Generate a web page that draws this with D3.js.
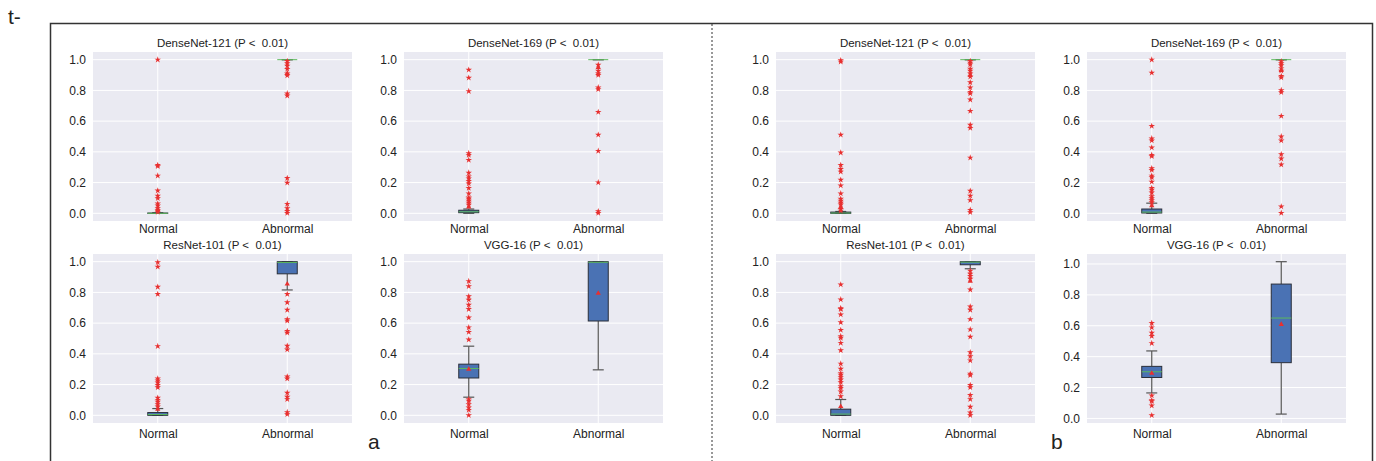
<!DOCTYPE html>
<html>
<head>
<meta charset="utf-8">
<script src="https://cdn.jsdelivr.net/npm/d3@7"></script>
<style>
  body { margin: 0; background: #fff; }
  text { font-family: "Liberation Sans", Arial, sans-serif; }
</style>
</head>
<body>
<div id="chart"></div>
<script>
// categories and ticks
var categories = ["Normal", "Abnormal"];
var yTicks = [0, 0.2, 0.4, 0.6, 0.8, 1.0];
var titles = ["DenseNet-121 (P <  0.01)", "DenseNet-169 (P <  0.01)",
              "ResNet-101 (P <  0.01)", "VGG-16 (P <  0.01)"];

// box stats per category: [lowWhisker, q1, median, q3, highWhisker, mean]
// panel a
var dn121aBox = [[0, 0, 0, 0.002, 0.004, 0.025], [1, 1, 1, 1, 1, 0.91]];
var dn121aOut = [[1.0, 0.314, 0.306, 0.245, 0.148, 0.114, 0.098, 0.063, 0.05, 0.033, 0.02, 0.009],
                 [0.991, 0.976, 0.96, 0.939, 0.91, 0.897, 0.78, 0.766, 0.229, 0.199, 0.061, 0.033, 0.015, 0.002]];

var dn169aBox = [[0, 0.004, 0.01, 0.02, 0.028, 0.041], [1, 1, 1, 1, 1, 0.95]];
var dn169aOut = [[0.934, 0.882, 0.795, 0.391, 0.38, 0.347, 0.264, 0.24, 0.227, 0.21, 0.194, 0.164, 0.129, 0.103, 0.094, 0.081, 0.068, 0.055],
                 [0.967, 0.928, 0.91, 0.9, 0.819, 0.808, 0.659, 0.511, 0.406, 0.201, 0.013, 0.002]];

var res101aBox = [[0, 0, 0.005, 0.018, 0.044, 0.04], [0.816, 0.921, 0.995, 1.0, 1.0, 0.855]];
var res101aOut = [[0.996, 0.967, 0.836, 0.789, 0.45, 0.239, 0.226, 0.213, 0.197, 0.182, 0.114, 0.1, 0.088, 0.072, 0.057],
                  [0.789, 0.735, 0.686, 0.625, 0.616, 0.548, 0.537, 0.452, 0.428, 0.252, 0.239, 0.147, 0.121, 0.105, 0.02, 0.007]];

var vgg16aBox = [[0.118, 0.243, 0.305, 0.333, 0.45, 0.30], [0.296, 0.614, 0.996, 1.0, 1.0, 0.794]];
var vgg16aOut = [[0.873, 0.84, 0.774, 0.752, 0.719, 0.691, 0.636, 0.572, 0.542, 0.493, 0.105, 0.094, 0.072, 0.05, 0.035, 0.0],
                 []];

// panel b
var dn121bBox = [[0, 0, 0.002, 0.008, 0.012, 0.041], [1, 1, 1, 1, 1, 0.9]];
var dn121bOut = [[0.996, 0.987, 0.511, 0.395, 0.314, 0.288, 0.271, 0.218, 0.181, 0.129, 0.094, 0.081, 0.068, 0.057, 0.028, 0.017],
                 [0.991, 0.98, 0.969, 0.941, 0.928, 0.91, 0.889, 0.852, 0.819, 0.79, 0.78, 0.74, 0.666, 0.576, 0.555, 0.362, 0.146, 0.114, 0.085, 0.022, 0.007]];

var dn169bBox = [[0, 0.002, 0.008, 0.028, 0.066, 0.05], [1, 1, 1, 1, 1, 0.93]];
var dn169bOut = [[1.0, 0.915, 0.568, 0.487, 0.474, 0.428, 0.38, 0.371, 0.293, 0.282, 0.245, 0.234, 0.205, 0.164, 0.153, 0.135, 0.111, 0.098, 0.085, 0.072],
                 [0.989, 0.976, 0.963, 0.943, 0.928, 0.893, 0.884, 0.801, 0.788, 0.633, 0.5, 0.474, 0.384, 0.356, 0.317, 0.044, 0.002]];

var res101bBox = [[0, 0, 0.008, 0.04, 0.103, 0.057], [0.954, 0.98, 0.997, 1.0, 1.0, 0.873]];
var res101bOut = [[0.851, 0.754, 0.697, 0.691, 0.656, 0.605, 0.555, 0.515, 0.504, 0.471, 0.423, 0.336, 0.303, 0.274, 0.263, 0.248, 0.232, 0.215, 0.189, 0.178, 0.154, 0.123],
                  [0.941, 0.921, 0.906, 0.888, 0.818, 0.708, 0.686, 0.625, 0.559, 0.511, 0.41, 0.384, 0.357, 0.27, 0.261, 0.197, 0.182, 0.132, 0.105, 0.055, 0.018, 0.0]];

var vgg16bBox = [[0.165, 0.265, 0.302, 0.337, 0.437, 0.293], [0.028, 0.361, 0.65, 0.87, 1.015, 0.609]];
var vgg16bOut = [[0.617, 0.589, 0.554, 0.533, 0.487, 0.148, 0.117, 0.111, 0.083, 0.02],
                 []];

var plots = [
  {title: titles[0], box: dn121aBox, out: dn121aOut, col: 0, row: 0},
  {title: titles[1], box: dn169aBox, out: dn169aOut, col: 1, row: 0},
  {title: titles[2], box: res101aBox, out: res101aOut, col: 0, row: 1},
  {title: titles[3], box: vgg16aBox, out: vgg16aOut, col: 1, row: 1},
  {title: titles[0], box: dn121bBox, out: dn121bOut, col: 2, row: 0},
  {title: titles[1], box: dn169bBox, out: dn169bOut, col: 3, row: 0},
  {title: titles[2], box: res101bBox, out: res101bOut, col: 2, row: 1},
  {title: titles[3], box: vgg16bBox, out: vgg16bOut, col: 3, row: 1}
];

// layout
var W = 1376, H = 461;
var colX = [93, 404, 776, 1087], rowY = [52, 254];
var pw = 259, ph = 169;

var svg = d3.select("#chart").append("svg")
    .attr("width", W).attr("height", H);

// outer frame and divider
svg.append("rect")
    .attr("x", 50.5).attr("y", 23.5).attr("width", 1322).attr("height", 470)
    .attr("fill", "none").attr("stroke", "#333").attr("stroke-width", 1.5);
svg.append("line")
    .attr("x1", 712).attr("x2", 712).attr("y1", 24).attr("y2", H)
    .attr("stroke", "#333").attr("stroke-width", 1).attr("stroke-dasharray", "2,2");

svg.append("text").attr("x", 8).attr("y", 24).attr("font-size", 21).attr("fill", "#222").text("t-");
svg.append("text").attr("x", 368).attr("y", 449).attr("font-size", 21).attr("fill", "#222").text("a");
svg.append("text").attr("x", 1051).attr("y", 449).attr("font-size", 21).attr("fill", "#222").text("b");

var boxColor = "#4a72b4", edgeColor = "#2a2f3a", whiskColor = "#555",
    medColor = "#5cb85c", redColor = "#e83030";

plots.forEach(function(p) {
  var g = svg.append("g")
      .attr("transform", "translate(" + colX[p.col] + "," + rowY[p.row] + ")");

  // y domain like matplotlib autoscale: data range plus 5% margin
  var all = [];
  p.box.forEach(function(b) { all.push(b[0], b[4]); });
  p.out.forEach(function(o) { all = all.concat(o); });
  var lo = d3.min(all), hi = d3.max(all), pad = (hi - lo) * 0.05;

  var y = d3.scaleLinear().domain([lo - pad, hi + pad]).range([ph, 0]);
  var x = d3.scaleLinear().domain([0.5, 2.5]).range([0, pw]);

  g.append("rect").attr("width", pw).attr("height", ph).attr("fill", "#eaeaf2");

  // grid
  g.append("g").selectAll("line").data(yTicks).enter().append("line")
      .attr("x1", 0).attr("x2", pw)
      .attr("y1", function(d) { return y(d); }).attr("y2", function(d) { return y(d); })
      .attr("stroke", "#fff").attr("stroke-width", 1);
  g.append("g").selectAll("line").data(categories).enter().append("line")
      .attr("x1", function(d, i) { return x(i + 1); }).attr("x2", function(d, i) { return x(i + 1); })
      .attr("y1", 0).attr("y2", ph)
      .attr("stroke", "#fff").attr("stroke-width", 1);

  // axes
  var ya = g.append("g").call(d3.axisLeft(y).tickValues(yTicks).tickFormat(d3.format(".1f")).tickSize(0).tickPadding(7));
  ya.select(".domain").remove();
  ya.selectAll("text").attr("font-size", 12).attr("fill", "#222")
      .style("font-family", "'Liberation Sans', Arial, sans-serif");

  var xa = g.append("g").attr("transform", "translate(0," + ph + ")")
      .call(d3.axisBottom(x).tickValues([1, 2]).tickFormat(function(d) { return categories[d - 1]; }).tickSize(0).tickPadding(5));
  xa.select(".domain").remove();
  xa.selectAll("text").attr("font-size", 12).attr("fill", "#222")
      .attr("dy", p.row === 0 ? "0.55em" : "0.8em")
      .style("font-family", "'Liberation Sans', Arial, sans-serif");

  g.append("text")
      .attr("x", pw / 2).attr("y", -5)
      .attr("text-anchor", "middle").attr("font-size", 11.5).attr("fill", "#222")
      .style("white-space", "pre")
      .text(p.title);

  var bw = 20, cw = 11;
  p.box.forEach(function(b, i) {
    var cx = x(i + 1);
    // whiskers
    g.append("line").attr("x1", cx).attr("x2", cx).attr("y1", y(b[0])).attr("y2", y(b[1]))
        .attr("stroke", whiskColor).attr("stroke-width", 1.2);
    g.append("line").attr("x1", cx).attr("x2", cx).attr("y1", y(b[3])).attr("y2", y(b[4]))
        .attr("stroke", whiskColor).attr("stroke-width", 1.2);
    [b[0], b[4]].forEach(function(v) {
      g.append("line").attr("x1", cx - cw / 2).attr("x2", cx + cw / 2).attr("y1", y(v)).attr("y2", y(v))
          .attr("stroke", whiskColor).attr("stroke-width", 1.2);
    });
    // box
    g.append("rect")
        .attr("x", cx - bw / 2).attr("width", bw)
        .attr("y", y(b[3])).attr("height", Math.max(0, y(b[1]) - y(b[3])))
        .attr("fill", boxColor).attr("stroke", edgeColor).attr("stroke-width", 1);
    // median
    g.append("line").attr("x1", cx - bw / 2).attr("x2", cx + bw / 2).attr("y1", y(b[2])).attr("y2", y(b[2]))
        .attr("stroke", medColor).attr("stroke-width", 1);
    // mean
    g.append("path")
        .attr("d", d3.symbol().type(d3.symbolTriangle).size(12)())
        .attr("transform", "translate(" + cx + "," + y(b[5]) + ")")
        .attr("fill", redColor);
    // outliers
    g.append("g").selectAll("path").data(p.out[i]).enter().append("path")
        .attr("d", d3.symbol().type(d3.symbolStar).size(13)())
        .attr("transform", function(d) { return "translate(" + cx + "," + y(d) + ")"; })
        .attr("fill", redColor);
  });
});
</script>
</body>
</html>
